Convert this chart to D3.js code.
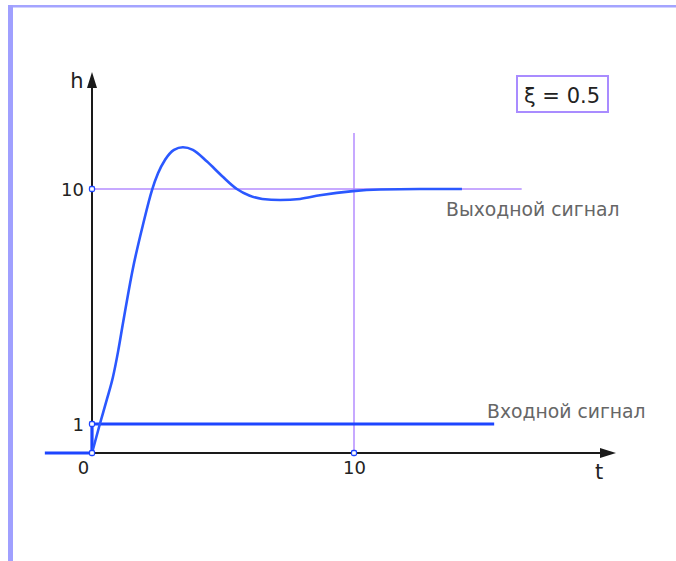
<!DOCTYPE html>
<html>
<head>
<meta charset="utf-8">
<script src="https://cdn.jsdelivr.net/npm/d3@7"></script>
<style>
  html, body { margin: 0; padding: 0; background: #fff; }
  svg { display: block; }
</style>
</head>
<body>
<svg id="chart" width="676" height="561"></svg>
<script>
// Step response of a second-order system (damping ratio 0.5)
const outT = [0, 0.30, 0.57, 0.80, 1.00, 1.18, 1.56, 1.95, 2.29, 2.52, 2.79, 3.13, 3.47, 3.85, 4.39, 4.96, 5.53, 6.00, 6.50, 7.18, 7.94, 8.70, 9.96, 11.00, 12.50, 14.12];
const outH = [0, 1.0, 1.95, 2.80, 3.80, 4.85, 6.95, 8.65, 9.96, 10.60, 11.12, 11.50, 11.60, 11.50, 11.05, 10.50, 10.00, 9.75, 9.62, 9.58, 9.62, 9.76, 9.92, 9.98, 10.0, 10.0];

// Unit step input
const inT = [-1.8, 0, 0, 15.35];
const inH = [0, 0, 1, 1];

const xTicks = [0, 10];
const yTicks = [1, 10];
const xTickLabels = ["0", "10"];
const yTickLabels = ["1", "10"];

const steadyLevel = 10;   // horizontal guide
const steadyLevelEnd = 16.4;
const settleTime = 10;    // vertical guide
const settleTop = 12.14;

const dampingLabel = "ξ = 0.5";
const outLabel = "Выходной сигнал";
const inLabel = "Входной сигнал";

const svg = d3.select("#chart");

// frame
svg.append("rect").attr("x", 8).attr("y", 5).attr("width", 680).attr("height", 2.5).attr("fill", "#a4a4ff");
svg.append("rect").attr("x", 8).attr("y", 5).attr("width", 5).attr("height", 560).attr("fill", "#a0a0ff");

const x = d3.scaleLinear().domain([0, 10]).range([92, 354]);
const y = d3.scaleLinear().domain([0, 1, 10]).range([453, 424, 189]);

const blue = "#2b58ff";
const purple = "#b58cff";
const dark = "#1a1a1a";
const font = "DejaVu Sans, Verdana, sans-serif";

// guides
svg.append("line")
  .attr("x1", x(0)).attr("x2", x(steadyLevelEnd))
  .attr("y1", y(steadyLevel)).attr("y2", y(steadyLevel))
  .attr("stroke", purple).attr("stroke-width", 1.5);
svg.append("line")
  .attr("x1", x(settleTime)).attr("x2", x(settleTime))
  .attr("y1", y(settleTop)).attr("y2", y(0))
  .attr("stroke", purple).attr("stroke-width", 1.5);

// axes
const xAxis = d3.axisBottom(x).tickValues(xTicks).tickSize(0)
  .tickFormat((d, i) => xTickLabels[i]);
const gx = svg.append("g").attr("transform", `translate(0,${y(0)})`).call(xAxis);
gx.select(".domain").remove();
gx.selectAll("text")
  .attr("font-family", font).attr("font-size", 18).attr("fill", "#222")
  .attr("y", 8).attr("dy", "0.71em")
  .attr("dx", d => d === 0 ? -9 : 0);

const yAxis = d3.axisLeft(y).tickValues(yTicks).tickSize(0)
  .tickFormat((d, i) => yTickLabels[i]);
const gy = svg.append("g").attr("transform", `translate(${x(0)},0)`).call(yAxis);
gy.select(".domain").remove();
gy.selectAll("text")
  .attr("font-family", font).attr("font-size", 18).attr("fill", "#222")
  .attr("x", -8).attr("dy", "0.36em");

// axis lines with arrows
svg.append("line").attr("x1", x(0)).attr("x2", 606).attr("y1", y(0)).attr("y2", y(0))
  .attr("stroke", dark).attr("stroke-width", 2);
svg.append("path").attr("d", `M616,${y(0)} L600,${y(0) - 5} L600,${y(0) + 5} Z`).attr("fill", dark);
svg.append("line").attr("x1", x(0)).attr("x2", x(0)).attr("y1", y(0) + 2).attr("y2", 82)
  .attr("stroke", dark).attr("stroke-width", 2);
svg.append("path").attr("d", `M${x(0)},72 L${x(0) - 5},88 L${x(0) + 5},88 Z`).attr("fill", dark);

svg.append("text").attr("x", 77).attr("y", 88).attr("text-anchor", "middle")
  .attr("font-family", font).attr("font-size", 21).attr("fill", "#222").text("h");
svg.append("text").attr("x", 599).attr("y", 479).attr("text-anchor", "middle")
  .attr("font-family", font).attr("font-size", 21).attr("fill", "#222").text("t");

// input step
const inData = inT.map((t, i) => [t, inH[i]]);
svg.append("path")
  .attr("d", d3.line().x(d => x(d[0])).y(d => y(d[1]))(inData))
  .attr("fill", "none").attr("stroke", "#1d45ff").attr("stroke-width", 3.2);

// output response
const outData = outT.map((t, i) => [t, outH[i]]);
svg.append("path")
  .attr("d", d3.line().curve(d3.curveMonotoneX).x(d => x(d[0])).y(d => y(d[1]))(outData))
  .attr("fill", "none").attr("stroke", blue).attr("stroke-width", 2.6);

// tick markers
const markers = [[0, 0], [0, 1], [0, 10], [10, 0]];
svg.selectAll("rect.mk").data(markers).enter().append("rect").attr("class", "mk")
  .attr("x", d => x(d[0]) - 2.5).attr("y", d => y(d[1]) - 2.5)
  .attr("width", 5).attr("height", 5).attr("rx", 1.5)
  .attr("fill", "#fff").attr("stroke", "#1d45ff").attr("stroke-width", 1.3);

// series labels
svg.append("text").attr("x", 446).attr("y", 216)
  .attr("font-family", font).attr("font-size", 18.8).attr("fill", "#666").text(outLabel);
svg.append("text").attr("x", 487).attr("y", 418)
  .attr("font-family", font).attr("font-size", 18.8).attr("fill", "#666").text(inLabel);

// damping ratio box
svg.append("rect").attr("x", 517).attr("y", 76).attr("width", 91).attr("height", 36)
  .attr("fill", "#fff").attr("stroke", "#a98cff").attr("stroke-width", 2);
svg.append("text").attr("x", 562).attr("y", 103).attr("text-anchor", "middle")
  .attr("font-family", font).attr("font-size", 21).attr("fill", "#222").text(dampingLabel);
</script>
</body>
</html>
